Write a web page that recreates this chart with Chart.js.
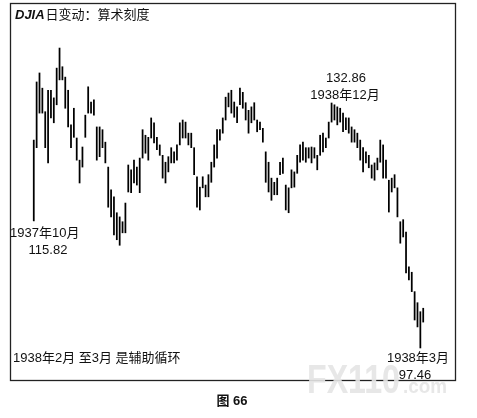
<!DOCTYPE html>
<html>
<head>
<meta charset="utf-8">
<script src="https://cdn.jsdelivr.net/npm/chart.js@4.4.0/dist/chart.umd.min.js"></script>
<style>
  html, body { margin: 0; padding: 0; background: #fff; }
  #wrap { width: 477px; height: 418px; }
</style>
</head>
<body>
<div id="wrap"><canvas id="djia" width="477" height="418"></canvas></div>
<script>
// daily high / low of the DJIA, Oct 1937 - Mar 1938
const highs = [
  127.5, 135.9, 137.2, 135.0, 131.6, 134.7, 134.7, 133.6, 137.9, 140.8,
  138.1, 136.6, 134.7, 129.7, 132.1, 127.8, 124.6, 126.5, 131.1, 135.2,
  133.0, 133.3, 129.4, 129.4, 129.0, 127.2, 123.6, 120.3, 119.3, 117.0,
  116.4, 115.7, 118.4, 123.9, 123.2, 124.6, 123.6, 124.9, 129.0, 128.2,
  127.9, 130.7, 130.0, 127.9, 126.8, 125.3, 124.3, 125.1, 126.4, 125.8,
  126.8, 130.0, 130.4, 130.1, 128.5, 128.5, 126.4, 122.2, 120.7, 122.2,
  121.0, 122.5, 124.3, 126.8, 129.0, 129.0, 130.7, 133.7, 134.3, 134.7,
  133.0, 132.3, 135.0, 134.4, 132.9, 131.8, 132.3, 132.9, 130.4, 130.1,
  129.2, 125.8, 124.3, 122.0, 121.4, 122.0, 124.3, 124.9, 121.0, 120.6,
  123.2, 122.9, 125.3, 126.8, 127.2, 126.4, 126.4, 126.5, 126.4, 125.3,
  128.2, 128.5, 127.8, 130.1, 132.86, 132.6, 132.3, 132.1, 131.4, 130.7,
  130.7, 129.4, 129.0, 128.5, 127.5, 126.4, 125.8, 125.3, 123.9, 124.2,
  124.9, 127.5, 126.8, 124.6, 121.7, 122.0, 122.5, 120.6, 115.7, 116.0,
  114.2, 109.2, 108.4, 105.6, 104.0, 102.7, 103.2
];
const lows = [
  115.82, 126.4, 131.4, 131.4, 126.4, 124.2, 130.7, 130.0, 132.6, 136.2,
  136.2, 132.1, 129.4, 126.4, 127.9, 124.6, 121.3, 123.6, 127.9, 131.4,
  131.4, 131.1, 124.6, 125.1, 126.4, 124.2, 117.8, 116.4, 113.8, 113.1,
  112.3, 114.1, 114.1, 120.0, 119.9, 121.3, 121.0, 119.9, 124.9, 125.6,
  124.6, 127.8, 127.1, 126.1, 125.3, 122.0, 121.3, 122.9, 124.2, 124.2,
  124.6, 126.8, 127.8, 127.8, 126.8, 126.4, 122.5, 117.8, 117.4, 120.6,
  119.3, 119.3, 121.4, 123.6, 124.9, 127.5, 128.5, 130.4, 132.3, 131.4,
  130.8, 130.0, 132.6, 132.1, 130.4, 128.5, 130.0, 130.4, 128.7, 129.0,
  127.2, 121.4, 120.0, 118.8, 119.6, 119.6, 122.5, 122.7, 117.4, 117.0,
  120.6, 120.7, 122.7, 124.3, 124.6, 124.3, 124.9, 124.2, 124.9, 123.2,
  125.3, 125.8, 126.4, 127.8, 130.1, 130.4, 129.7, 130.1, 128.7, 129.0,
  128.5, 127.2, 127.2, 126.4, 124.6, 122.9, 124.2, 123.5, 122.0, 121.7,
  123.2, 124.3, 122.0, 122.0, 117.1, 120.0, 120.6, 116.4, 112.6, 113.5,
  108.3, 107.3, 105.6, 101.5, 100.5, 97.46, 101.2
];

const title = ['DJIA', '日变动：算术刻度'];
const notes = [
  { text: '1937年10月', x: 10, y: 233, align: 'left' },
  { text: '115.82', x: 48, y: 250, align: 'center' },
  { text: '132.86', x: 346, y: 78, align: 'center' },
  { text: '1938年12月', x: 345, y: 95, align: 'center' },
  { text: '1938年2月 至3月 是辅助循环', x: 13, y: 358, align: 'left' },
  { text: '1938年3月', x: 418, y: 358, align: 'center' },
  { text: '97.46', x: 415, y: 375, align: 'center' }
];
const caption = '图 66';

const FONT = '"Liberation Sans", "Noto Sans CJK SC", sans-serif';

const bars = highs.map((h, i) => ({ x: i, y: [lows[i], h] }));

// squeeze a string into a given width (the watermark is condensed)
const fitText = (ctx, text, x, y, width) => {
  const w = ctx.measureText(text).width;
  ctx.save();
  ctx.translate(x, y);
  ctx.scale(width / w, 1);
  ctx.fillText(text, 0, 0);
  ctx.restore();
}

const frame = {
  id: 'frame',
  beforeDatasetsDraw(chart) {
    const { ctx, chartArea: a } = chart;
    ctx.save();
    ctx.strokeStyle = '#222';
    ctx.lineWidth = 1.3;
    ctx.strokeRect(a.left + 0.5, a.top + 0.5, a.right - a.left, a.bottom - a.top);
    ctx.restore();
  },
  afterDraw(chart) {
    const { ctx } = chart;
    ctx.save();
    // watermark
    ctx.fillStyle = 'rgba(228,228,228,0.9)';
    ctx.textBaseline = 'alphabetic';
    ctx.textAlign = 'left';
    ctx.font = 'bold 40px ' + FONT;
    fitText(ctx, 'FX110', 307, 393, 93);
    ctx.font = 'bold 20px ' + FONT;
    fitText(ctx, '.com', 403, 393, 44);

    ctx.fillStyle = '#111';
    ctx.textBaseline = 'middle';
    ctx.font = 'italic bold 13px ' + FONT;
    ctx.fillText(title[0], 15, 15);
    const w = ctx.measureText(title[0]).width;
    ctx.font = '13px ' + FONT;
    ctx.fillText(title[1], 15 + w + 1, 15);

    ctx.font = '13px ' + FONT;
    notes.forEach((n) => {
      ctx.textAlign = n.align;
      ctx.fillText(n.text, n.x, n.y);
    });

    ctx.textAlign = 'center';
    ctx.font = 'bold 13px ' + FONT;
    ctx.fillText(caption, 232, 401);
    ctx.restore();
  }
};

new Chart(document.getElementById('djia'), {
  type: 'bar',
  data: {
    datasets: [{
      data: bars,
      backgroundColor: '#000',
      borderWidth: 0,
      barThickness: 1.1,
      grouped: false
    }]
  },
  options: {
    responsive: false,
    animation: false,
    events: [],
    layout: { padding: { left: 10, right: 22, top: 3, bottom: 38 } },
    plugins: { legend: { display: false }, tooltip: { enabled: false } },
    scales: {
      x: { type: 'linear', display: false, min: -8.3, max: 147.1, offset: false },
      y: { display: false, min: 92.83, max: 147.31 }
    }
  },
  plugins: [frame]
});
</script>
</body>
</html>
